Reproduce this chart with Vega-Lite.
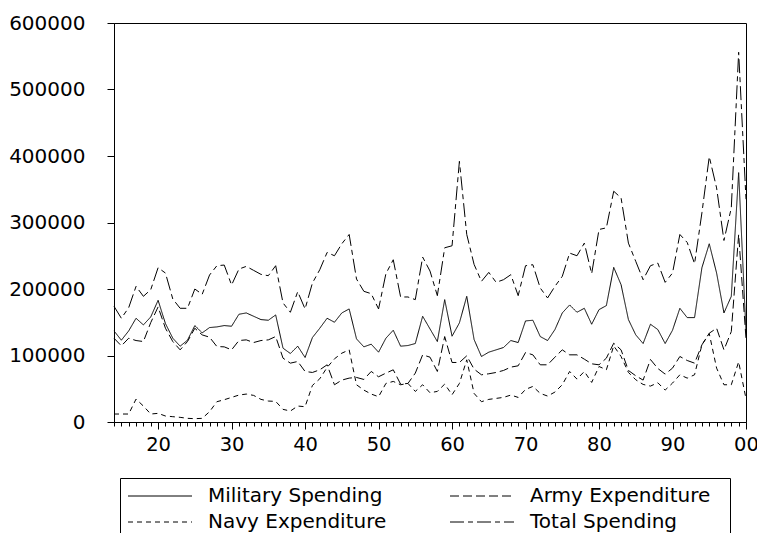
{
  "$schema": "https://vega.github.io/schema/vega-lite/v6.json",
  "width": 632,
  "height": 399,
  "autosize": {"type": "none"},
  "padding": {"left": 114, "top": 23, "right": 11, "bottom": 111},
  "background": "white",
  "config": {
    "view": {"stroke": "black", "strokeWidth": 1},
    "font": "DejaVu Sans"
  },
  "data": {
    "values": [
      {"year": 1914, "Military Spending": 137000, "Army Expenditure": 126000, "Navy Expenditure": 12000, "Total Spending": 174000},
      {"year": 1915, "Military Spending": 123000, "Army Expenditure": 114500, "Navy Expenditure": 12000, "Total Spending": 156000},
      {"year": 1916, "Military Spending": 137000, "Army Expenditure": 126000, "Navy Expenditure": 12000, "Total Spending": 172000},
      {"year": 1917, "Military Spending": 156000, "Army Expenditure": 122500, "Navy Expenditure": 34500, "Total Spending": 204000},
      {"year": 1918, "Military Spending": 146000, "Army Expenditure": 121000, "Navy Expenditure": 24000, "Total Spending": 189000},
      {"year": 1919, "Military Spending": 158000, "Army Expenditure": 149500, "Navy Expenditure": 12000, "Total Spending": 199000},
      {"year": 1920, "Military Spending": 183000, "Army Expenditure": 173000, "Navy Expenditure": 13000, "Total Spending": 232000},
      {"year": 1921, "Military Spending": 148000, "Army Expenditure": 141000, "Navy Expenditure": 9000, "Total Spending": 224000},
      {"year": 1922, "Military Spending": 126000, "Army Expenditure": 121000, "Navy Expenditure": 8000, "Total Spending": 185000},
      {"year": 1923, "Military Spending": 114000, "Army Expenditure": 108500, "Navy Expenditure": 7000, "Total Spending": 171000},
      {"year": 1924, "Military Spending": 123000, "Army Expenditure": 121000, "Navy Expenditure": 5500, "Total Spending": 171000},
      {"year": 1925, "Military Spending": 145000, "Army Expenditure": 141000, "Navy Expenditure": 5000, "Total Spending": 200000},
      {"year": 1926, "Military Spending": 134000, "Army Expenditure": 131000, "Navy Expenditure": 5500, "Total Spending": 192000},
      {"year": 1927, "Military Spending": 142000, "Army Expenditure": 127500, "Navy Expenditure": 15500, "Total Spending": 221000},
      {"year": 1928, "Military Spending": 143000, "Army Expenditure": 113500, "Navy Expenditure": 30500, "Total Spending": 235000},
      {"year": 1929, "Military Spending": 145000, "Army Expenditure": 113000, "Navy Expenditure": 33500, "Total Spending": 236000},
      {"year": 1930, "Military Spending": 144000, "Army Expenditure": 108500, "Navy Expenditure": 37000, "Total Spending": 206000},
      {"year": 1931, "Military Spending": 162000, "Army Expenditure": 122500, "Navy Expenditure": 40500, "Total Spending": 230000},
      {"year": 1932, "Military Spending": 164000, "Army Expenditure": 123500, "Navy Expenditure": 42000, "Total Spending": 234000},
      {"year": 1933, "Military Spending": 159000, "Army Expenditure": 119500, "Navy Expenditure": 40000, "Total Spending": 228000},
      {"year": 1934, "Military Spending": 154000, "Army Expenditure": 122500, "Navy Expenditure": 34000, "Total Spending": 222000},
      {"year": 1935, "Military Spending": 153000, "Army Expenditure": 123500, "Navy Expenditure": 31500, "Total Spending": 220000},
      {"year": 1936, "Military Spending": 161000, "Army Expenditure": 128500, "Navy Expenditure": 31000, "Total Spending": 235000},
      {"year": 1937, "Military Spending": 111000, "Army Expenditure": 96000, "Navy Expenditure": 19000, "Total Spending": 179000},
      {"year": 1938, "Military Spending": 103000, "Army Expenditure": 88500, "Navy Expenditure": 16500, "Total Spending": 165000},
      {"year": 1939, "Military Spending": 114000, "Army Expenditure": 91000, "Navy Expenditure": 24000, "Total Spending": 196000},
      {"year": 1940, "Military Spending": 97000, "Army Expenditure": 76000, "Navy Expenditure": 23000, "Total Spending": 170000},
      {"year": 1941, "Military Spending": 127000, "Army Expenditure": 74500, "Navy Expenditure": 55000, "Total Spending": 209000},
      {"year": 1942, "Military Spending": 141000, "Army Expenditure": 78500, "Navy Expenditure": 65000, "Total Spending": 229000},
      {"year": 1943, "Military Spending": 156000, "Army Expenditure": 86000, "Navy Expenditure": 82000, "Total Spending": 255000},
      {"year": 1944, "Military Spending": 150000, "Army Expenditure": 56000, "Navy Expenditure": 95000, "Total Spending": 250000},
      {"year": 1945, "Military Spending": 164000, "Army Expenditure": 63000, "Navy Expenditure": 103500, "Total Spending": 268000},
      {"year": 1946, "Military Spending": 170000, "Army Expenditure": 66000, "Navy Expenditure": 108500, "Total Spending": 282000},
      {"year": 1947, "Military Spending": 125000, "Army Expenditure": 67000, "Navy Expenditure": 56000, "Total Spending": 215000},
      {"year": 1948, "Military Spending": 113000, "Army Expenditure": 64000, "Navy Expenditure": 48000, "Total Spending": 196500},
      {"year": 1949, "Military Spending": 117000, "Army Expenditure": 76000, "Navy Expenditure": 42000, "Total Spending": 193000},
      {"year": 1950, "Military Spending": 105000, "Army Expenditure": 68000, "Navy Expenditure": 38000, "Total Spending": 170000},
      {"year": 1951, "Military Spending": 126000, "Army Expenditure": 73500, "Navy Expenditure": 58000, "Total Spending": 223000},
      {"year": 1952, "Military Spending": 138000, "Army Expenditure": 78500, "Navy Expenditure": 61000, "Total Spending": 244000},
      {"year": 1953, "Military Spending": 114000, "Army Expenditure": 57000, "Navy Expenditure": 56000, "Total Spending": 188000},
      {"year": 1954, "Military Spending": 115000, "Army Expenditure": 58000, "Navy Expenditure": 58000, "Total Spending": 188000},
      {"year": 1955, "Military Spending": 118000, "Army Expenditure": 73500, "Navy Expenditure": 46000, "Total Spending": 184000},
      {"year": 1956, "Military Spending": 159000, "Army Expenditure": 101000, "Navy Expenditure": 56000, "Total Spending": 248000},
      {"year": 1957, "Military Spending": 140000, "Army Expenditure": 97500, "Navy Expenditure": 44000, "Total Spending": 227000},
      {"year": 1958, "Military Spending": 121000, "Army Expenditure": 76000, "Navy Expenditure": 46000, "Total Spending": 190000},
      {"year": 1959, "Military Spending": 184000, "Army Expenditure": 128500, "Navy Expenditure": 57000, "Total Spending": 262000},
      {"year": 1960, "Military Spending": 129000, "Army Expenditure": 89500, "Navy Expenditure": 41000, "Total Spending": 265000},
      {"year": 1961, "Military Spending": 149000, "Army Expenditure": 89500, "Navy Expenditure": 58000, "Total Spending": 392000},
      {"year": 1962, "Military Spending": 189000, "Army Expenditure": 99500, "Navy Expenditure": 93500, "Total Spending": 282000},
      {"year": 1963, "Military Spending": 124000, "Army Expenditure": 79500, "Navy Expenditure": 43000, "Total Spending": 237000},
      {"year": 1964, "Military Spending": 98500, "Army Expenditure": 71000, "Navy Expenditure": 30500, "Total Spending": 211500},
      {"year": 1965, "Military Spending": 105000, "Army Expenditure": 72500, "Navy Expenditure": 34000, "Total Spending": 225000},
      {"year": 1966, "Military Spending": 108500, "Army Expenditure": 74500, "Navy Expenditure": 35500, "Total Spending": 210000},
      {"year": 1967, "Military Spending": 112000, "Army Expenditure": 77500, "Navy Expenditure": 37000, "Total Spending": 214000},
      {"year": 1968, "Military Spending": 122500, "Army Expenditure": 82500, "Navy Expenditure": 40500, "Total Spending": 221500},
      {"year": 1969, "Military Spending": 119500, "Army Expenditure": 84500, "Navy Expenditure": 37000, "Total Spending": 190000},
      {"year": 1970, "Military Spending": 152000, "Army Expenditure": 104500, "Navy Expenditure": 49000, "Total Spending": 235000},
      {"year": 1971, "Military Spending": 153000, "Army Expenditure": 101000, "Navy Expenditure": 53500, "Total Spending": 236500},
      {"year": 1972, "Military Spending": 128500, "Army Expenditure": 86000, "Navy Expenditure": 43000, "Total Spending": 201500},
      {"year": 1973, "Military Spending": 122500, "Army Expenditure": 86000, "Navy Expenditure": 39000, "Total Spending": 186500},
      {"year": 1974, "Military Spending": 139000, "Army Expenditure": 97500, "Navy Expenditure": 45000, "Total Spending": 204000},
      {"year": 1975, "Military Spending": 164000, "Army Expenditure": 108500, "Navy Expenditure": 56000, "Total Spending": 219000},
      {"year": 1976, "Military Spending": 176000, "Army Expenditure": 101000, "Navy Expenditure": 76000, "Total Spending": 254000},
      {"year": 1977, "Military Spending": 165000, "Army Expenditure": 101000, "Navy Expenditure": 64500, "Total Spending": 250000},
      {"year": 1978, "Military Spending": 171000, "Army Expenditure": 94500, "Navy Expenditure": 76000, "Total Spending": 269000},
      {"year": 1979, "Military Spending": 147000, "Army Expenditure": 87500, "Navy Expenditure": 59500, "Total Spending": 223000},
      {"year": 1980, "Military Spending": 169000, "Army Expenditure": 86000, "Navy Expenditure": 83500, "Total Spending": 289500},
      {"year": 1981, "Military Spending": 175000, "Army Expenditure": 96000, "Navy Expenditure": 78500, "Total Spending": 292000},
      {"year": 1982, "Military Spending": 232500, "Army Expenditure": 118500, "Navy Expenditure": 114500, "Total Spending": 347000},
      {"year": 1983, "Military Spending": 206500, "Army Expenditure": 108500, "Navy Expenditure": 98500, "Total Spending": 337000},
      {"year": 1984, "Military Spending": 154000, "Army Expenditure": 77500, "Navy Expenditure": 74500, "Total Spending": 269000},
      {"year": 1985, "Military Spending": 131000, "Army Expenditure": 69500, "Navy Expenditure": 63500, "Total Spending": 241500},
      {"year": 1986, "Military Spending": 118000, "Army Expenditure": 63000, "Navy Expenditure": 56500, "Total Spending": 214000},
      {"year": 1987, "Military Spending": 147000, "Army Expenditure": 94000, "Navy Expenditure": 54000, "Total Spending": 235000},
      {"year": 1988, "Military Spending": 139000, "Army Expenditure": 80500, "Navy Expenditure": 59000, "Total Spending": 239000},
      {"year": 1989, "Military Spending": 118000, "Army Expenditure": 72000, "Navy Expenditure": 48000, "Total Spending": 210000},
      {"year": 1990, "Military Spending": 138000, "Army Expenditure": 81000, "Navy Expenditure": 58500, "Total Spending": 224000},
      {"year": 1991, "Military Spending": 171000, "Army Expenditure": 98500, "Navy Expenditure": 71000, "Total Spending": 282000},
      {"year": 1992, "Military Spending": 157000, "Army Expenditure": 92500, "Navy Expenditure": 66000, "Total Spending": 270000},
      {"year": 1993, "Military Spending": 157000, "Army Expenditure": 88500, "Navy Expenditure": 71000, "Total Spending": 238000},
      {"year": 1994, "Military Spending": 232000, "Army Expenditure": 116000, "Navy Expenditure": 116000, "Total Spending": 314500},
      {"year": 1995, "Military Spending": 268000, "Army Expenditure": 133500, "Navy Expenditure": 133000, "Total Spending": 399000},
      {"year": 1996, "Military Spending": 224000, "Army Expenditure": 141000, "Navy Expenditure": 81000, "Total Spending": 352000},
      {"year": 1997, "Military Spending": 164000, "Army Expenditure": 108500, "Navy Expenditure": 56000, "Total Spending": 273000},
      {"year": 1998, "Military Spending": 189000, "Army Expenditure": 136000, "Navy Expenditure": 56000, "Total Spending": 322000},
      {"year": 1999, "Military Spending": 375000, "Army Expenditure": 282000, "Navy Expenditure": 90500, "Total Spending": 556000},
      {"year": 2000, "Military Spending": 136000, "Army Expenditure": 125000, "Navy Expenditure": 35000, "Total Spending": 335000}
    ]
  },
  "transform": [
    {"fold": ["Military Spending", "Army Expenditure", "Navy Expenditure", "Total Spending"], "as": ["series", "value"]}
  ],
  "mark": {"type": "line", "strokeWidth": 1, "color": "black", "strokeCap": "butt"},
  "encoding": {
    "x": {
      "field": "year",
      "type": "quantitative",
      "scale": {"domain": [1914, 2000], "nice": false, "zero": false},
      "axis": {
        "title": null,
        "grid": false,
        "values": [1914,1915,1916,1917,1918,1919,1920,1921,1922,1923,1924,1925,1926,1927,1928,1929,1930,1931,1932,1933,1934,1935,1936,1937,1938,1939,1940,1941,1942,1943,1944,1945,1946,1947,1948,1949,1950,1951,1952,1953,1954,1955,1956,1957,1958,1959,1960,1961,1962,1963,1964,1965,1966,1967,1968,1969,1970,1971,1972,1973,1974,1975,1976,1977,1978,1979,1980,1981,1982,1983,1984,1985,1986,1987,1988,1989,1990,1991,1992,1993,1994,1995,1996,1997,1998,1999,2000],
        "labelExpr": "datum.value % 10 === 0 ? ((datum.value % 100) < 10 ? '0' : '') + (datum.value % 100) : ''",
        "tickSize": {"condition": {"test": "datum.value % 10 === 0", "value": 7}, "value": 4},
        "tickColor": "black",
        "domainColor": "black",
        "labelColor": "black",
        "labelFont": "DejaVu Sans",
        "labelFontSize": 19.5,
        "labelPadding": 6,
        "labelOverlap": false,
        "labelFlush": false,
        "labelBound": false
      }
    },
    "y": {
      "field": "value",
      "type": "quantitative",
      "scale": {"domain": [0, 600000], "nice": false},
      "axis": {
        "title": null,
        "grid": false,
        "values": [0, 100000, 200000, 300000, 400000, 500000, 600000],
        "format": "d",
        "tickSize": 7,
        "tickColor": "black",
        "domainColor": "black",
        "labelColor": "black",
        "labelFont": "DejaVu Sans",
        "labelFontSize": 20,
        "labelPadding": 22,
        "labelOverlap": false,
        "labelFlush": false,
        "labelBound": false
      }
    },
    "strokeDash": {
      "field": "series",
      "type": "nominal",
      "scale": {
        "domain": ["Military Spending", "Army Expenditure", "Navy Expenditure", "Total Spending"],
        "range": [[1, 0], [9, 4], [5, 4], [14, 4, 5, 4]]
      },
      "legend": {
        "orient": "none",
        "legendX": 6,
        "legendY": 455,
        "direction": "horizontal",
        "columns": 2,
        "title": " ",
        "titleOrient": "right",
        "titlePadding": 12,
        "titleFontSize": 10,
        "symbolType": "M-4,0H4",
        "symbolStrokeColor": "black",
        "symbolStrokeWidth": 1,
        "symbolSize": 256,
        "symbolOffset": 22,
        "labelFont": "DejaVu Sans",
        "labelFontSize": 20,
        "labelColor": "black",
        "labelLimit": 400,
        "labelOffset": 38,
        "strokeColor": "black",
        "fillColor": "white",
        "padding": 8,
        "columnPadding": 61,
        "rowPadding": 6
      }
    }
  }
}
